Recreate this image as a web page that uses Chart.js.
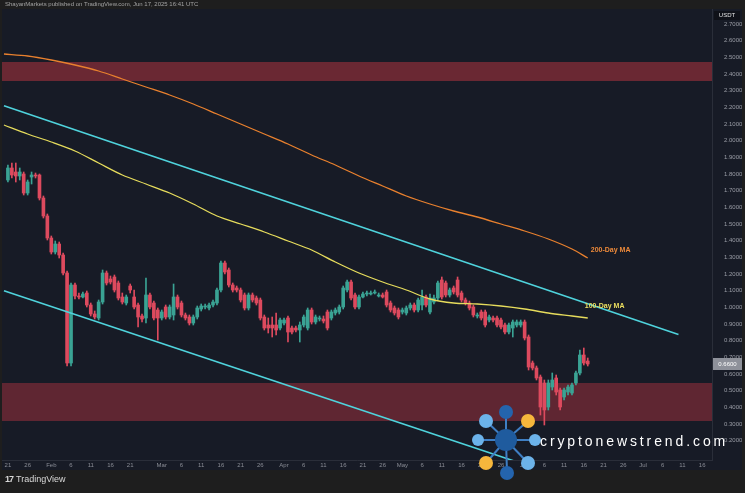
<!DOCTYPE html>
<html>
<head>
<meta charset="utf-8">
<script src="https://cdn.jsdelivr.net/npm/chart.js@4.4.1/dist/chart.umd.min.js"></script>
<style>
  html, body { margin: 0; padding: 0; background: #1e1e1e; }
  #wrap { position: relative; width: 745px; height: 493px; overflow: hidden; font-family: "Liberation Sans", Arial, sans-serif; }
  #chart { position: absolute; left: 0; top: 0; }
  .header { position: absolute; left: 5px; top: 1px; font-size: 6px; color: #a3a3a3; white-space: nowrap; }
  .footer { position: absolute; left: 5px; top: 474px; font-size: 9px; color: #d8d8d8; }
  .footer b { font-weight: 700; margin-right: 3px; letter-spacing: -1px; }
  .wm-text { position: absolute; left: 540px; top: 433px; font-size: 14px; color: #ffffff; letter-spacing: 2.9px; white-space: nowrap; }
  .wm-logo { position: absolute; left: 466px; top: 402px; }
</style>
</head>
<body>
<div id="wrap">
  <canvas id="chart" width="745" height="493"></canvas>
  <div class="header">ShayanMarkets published on TradingView.com, Jun 17, 2025 16:41 UTC</div>
  <div class="footer"><b>17</b>TradingView</div>
  <svg class="wm-logo" width="80" height="80" viewBox="0 0 80 80">
    <g stroke="#3f7fc4" stroke-width="2">
      <line x1="40" y1="38" x2="40" y2="10"/><line x1="40" y1="38" x2="20" y2="19"/>
      <line x1="40" y1="38" x2="62" y2="19"/><line x1="40" y1="38" x2="12" y2="38"/>
      <line x1="40" y1="38" x2="69" y2="38"/><line x1="40" y1="38" x2="20" y2="61"/>
      <line x1="40" y1="38" x2="41" y2="71"/><line x1="40" y1="38" x2="62" y2="61"/>
    </g>
    <circle cx="40" cy="10" r="7" fill="#2464ad"/>
    <circle cx="20" cy="19" r="7" fill="#6cb3ea"/>
    <circle cx="62" cy="19" r="7" fill="#f6b73c"/>
    <circle cx="12" cy="38" r="6" fill="#6cb3ea"/>
    <circle cx="69" cy="38" r="6" fill="#6cb3ea"/>
    <circle cx="20" cy="61" r="7" fill="#f6b73c"/>
    <circle cx="41" cy="71" r="7" fill="#2464ad"/>
    <circle cx="62" cy="61" r="7" fill="#6cb3ea"/>
    <circle cx="40" cy="38" r="11" fill="#1f5b9e"/>
  </svg>
  <div class="wm-text">cryptonewstrend.com</div>
</div>

<script>
// ======================================
// Data
// ======================================

const startDay = "2025-01-20";
const totalDays = 180;
const firstCandle = 1; // first candle sits on day index 1

const opens = [
  1.764, 1.836, 1.812, 1.788, 1.800, 1.686, 1.782, 1.794, 1.794, 1.656,
  1.548, 1.416, 1.332, 1.380, 1.314, 1.206, 0.666, 1.134, 1.068, 1.062,
  1.086, 1.014, 0.960, 0.936, 1.032, 1.206, 1.170, 1.182, 1.146, 1.062,
  1.026, 1.128, 1.062, 1.014, 0.948, 0.936, 1.074, 1.026, 0.984, 0.936,
  1.002, 0.942, 0.954, 1.062, 1.026, 0.954, 0.942, 0.906, 0.942, 0.990,
  1.002, 0.996, 1.014, 1.026, 1.104, 1.266, 1.224, 1.134, 1.116, 1.104,
  1.074, 0.996, 1.074, 1.056, 1.044, 0.942, 0.894, 0.894, 0.894, 0.876,
  0.906, 0.936, 0.876, 0.876, 0.864, 0.894, 0.876, 0.984, 0.912, 0.930,
  0.930, 0.972, 0.936, 0.966, 0.972, 1.002, 1.104, 1.152, 1.074, 1.002,
  1.062, 1.080, 1.080, 1.086, 1.068, 1.074, 1.092, 1.026, 0.996, 0.984,
  0.972, 0.966, 0.996, 1.014, 0.984, 1.014, 1.062, 0.972, 1.032, 1.056,
  1.164, 1.146, 1.074, 1.116, 1.164, 1.086, 1.044, 1.026, 1.002, 0.948,
  0.972, 0.972, 0.924, 0.936, 0.936, 0.924, 0.894, 0.852, 0.876, 0.894,
  0.894, 0.912, 0.822, 0.666, 0.636, 0.582, 0.546, 0.402, 0.522, 0.576,
  0.504, 0.462, 0.492, 0.486, 0.546, 0.606, 0.714, 0.678,
];
const highs = [
  1.854, 1.866, 1.866, 1.836, 1.812, 1.764, 1.812, 1.806, 1.800, 1.668,
  1.560, 1.428, 1.398, 1.392, 1.326, 1.218, 1.146, 1.146, 1.086, 1.092,
  1.098, 1.026, 0.978, 1.044, 1.224, 1.218, 1.188, 1.194, 1.158, 1.086,
  1.074, 1.140, 1.104, 1.026, 0.960, 1.176, 1.086, 1.038, 0.996, 0.984,
  1.014, 1.014, 1.140, 1.074, 1.038, 0.966, 0.954, 0.954, 1.008, 1.020,
  1.020, 1.026, 1.044, 1.116, 1.278, 1.278, 1.236, 1.146, 1.128, 1.116,
  1.086, 1.086, 1.086, 1.068, 1.056, 0.954, 0.936, 0.942, 0.966, 0.936,
  0.936, 0.948, 0.888, 0.888, 0.912, 0.954, 0.996, 0.996, 0.954, 0.948,
  0.948, 0.984, 0.984, 0.996, 1.014, 1.128, 1.164, 1.164, 1.086, 1.074,
  1.092, 1.098, 1.098, 1.104, 1.086, 1.086, 1.104, 1.038, 1.008, 0.996,
  0.996, 1.008, 1.026, 1.026, 1.056, 1.104, 1.074, 1.080, 1.074, 1.158,
  1.182, 1.158, 1.116, 1.128, 1.182, 1.098, 1.056, 1.038, 1.014, 0.966,
  0.984, 0.984, 0.954, 0.948, 0.948, 0.936, 0.906, 0.906, 0.924, 0.924,
  0.924, 0.924, 0.834, 0.678, 0.648, 0.594, 0.564, 0.564, 0.606, 0.594,
  0.516, 0.516, 0.534, 0.546, 0.618, 0.744, 0.756, 0.696,
];
const lows = [
  1.752, 1.776, 1.752, 1.764, 1.674, 1.674, 1.740, 1.776, 1.644, 1.536,
  1.404, 1.320, 1.320, 1.296, 1.194, 0.648, 0.648, 1.050, 1.050, 1.056,
  1.002, 0.948, 0.930, 0.924, 1.020, 1.134, 1.140, 1.092, 1.044, 1.020,
  1.014, 1.086, 0.990, 0.882, 0.912, 0.906, 0.990, 0.924, 0.804, 0.924,
  0.930, 0.930, 0.924, 0.990, 0.942, 0.924, 0.894, 0.894, 0.930, 0.978,
  0.990, 0.984, 1.002, 1.014, 1.092, 1.200, 1.122, 1.092, 1.092, 1.032,
  0.984, 0.984, 1.032, 1.014, 0.924, 0.864, 0.846, 0.822, 0.834, 0.864,
  0.894, 0.792, 0.840, 0.852, 0.792, 0.882, 0.864, 0.900, 0.900, 0.918,
  0.906, 0.864, 0.924, 0.954, 0.960, 0.990, 1.092, 1.044, 0.990, 0.990,
  1.056, 1.068, 1.074, 1.080, 1.062, 1.056, 1.002, 0.972, 0.954, 0.930,
  0.960, 0.954, 0.984, 0.972, 0.972, 0.984, 1.002, 0.960, 1.020, 1.044,
  1.050, 1.062, 1.062, 1.080, 1.062, 1.032, 1.014, 0.984, 0.942, 0.936,
  0.924, 0.882, 0.912, 0.912, 0.882, 0.870, 0.840, 0.840, 0.822, 0.882,
  0.882, 0.804, 0.624, 0.624, 0.564, 0.354, 0.294, 0.384, 0.504, 0.474,
  0.384, 0.444, 0.474, 0.474, 0.534, 0.594, 0.654, 0.648,
];
const closes = [
  1.836, 1.794, 1.788, 1.812, 1.686, 1.752, 1.794, 1.788, 1.656, 1.548,
  1.416, 1.332, 1.380, 1.314, 1.206, 0.666, 1.134, 1.068, 1.062, 1.080,
  1.014, 0.960, 0.942, 1.032, 1.206, 1.146, 1.152, 1.104, 1.056, 1.032,
  1.062, 1.104, 1.002, 0.942, 0.930, 1.074, 1.002, 0.936, 0.936, 0.972,
  0.942, 1.002, 1.062, 1.002, 0.954, 0.936, 0.906, 0.942, 0.996, 1.008,
  1.008, 1.014, 1.032, 1.104, 1.266, 1.212, 1.134, 1.104, 1.104, 1.044,
  0.996, 1.074, 1.044, 1.026, 0.936, 0.876, 0.876, 0.876, 0.864, 0.924,
  0.924, 0.852, 0.852, 0.864, 0.894, 0.942, 0.984, 0.912, 0.942, 0.936,
  0.918, 0.876, 0.972, 0.984, 1.002, 1.116, 1.152, 1.056, 1.002, 1.062,
  1.080, 1.086, 1.086, 1.092, 1.074, 1.062, 1.014, 0.984, 0.966, 0.942,
  0.984, 0.996, 1.014, 0.984, 1.044, 1.062, 1.014, 1.056, 1.056, 1.146,
  1.062, 1.074, 1.104, 1.092, 1.074, 1.044, 1.026, 0.996, 0.954, 0.954,
  0.936, 0.894, 0.942, 0.924, 0.894, 0.882, 0.852, 0.894, 0.912, 0.912,
  0.912, 0.816, 0.642, 0.636, 0.576, 0.402, 0.384, 0.546, 0.564, 0.492,
  0.402, 0.504, 0.522, 0.534, 0.606, 0.714, 0.666, 0.660,
];

// moving averages read at a few days (day index from startDay)
const maDays = [0, 6, 12, 18, 24, 30, 36, 42, 48, 54, 60, 66, 72, 78, 84, 90, 96, 102, 108, 114, 120, 126, 132, 138, 144, 148];
const ma200 = [2.520, 2.508, 2.484, 2.454, 2.418, 2.370, 2.322, 2.274, 2.220, 2.160, 2.100, 2.040, 1.980, 1.914, 1.854, 1.788, 1.728, 1.668, 1.620, 1.578, 1.542, 1.500, 1.458, 1.410, 1.350, 1.296];
const ma100 = [2.094, 2.040, 1.992, 1.938, 1.866, 1.794, 1.740, 1.686, 1.620, 1.548, 1.500, 1.452, 1.398, 1.344, 1.272, 1.206, 1.152, 1.104, 1.050, 1.026, 1.020, 1.008, 0.990, 0.966, 0.948, 0.936];

// channel lines: [day, price] end points
const upperChannel = [[0, 2.210], [171, 0.837]];
const lowerChannel = [[0, 1.100], [132, 0.057]];

// supply / demand zones: [top, bottom]
const resistanceZone = [2.472, 2.358];
const supportZone = [0.546, 0.318];

const priceTicks = [2.7, 2.6, 2.5, 2.4, 2.3, 2.2, 2.1, 2.0, 1.9, 1.8, 1.7, 1.6, 1.5, 1.4, 1.3, 1.2, 1.1, 1.0, 0.9, 0.8, 0.7, 0.6, 0.5, 0.4, 0.3, 0.2];
const monthNames = ["Jan", "Feb", "Mar", "Apr", "May", "Jun", "Jul", "Aug", "Sep", "Oct", "Nov", "Dec"];

// ======================================
// Build
// ======================================

const UP = "#3aa394";
const DOWN = "#dd4a5e";

const labels = [];
const t0 = new Date(startDay + "T00:00:00Z");
for (let i = 0; i < totalDays; i++) {
  const d = new Date(t0.getTime() + i * 86400000);
  labels.push(d.toISOString().slice(0, 10));
}

const bodies = labels.map((_, i) => {
  const k = i - firstCandle;
  return k >= 0 && k < opens.length ? [opens[k], closes[k]] : null;
});
const wicks = labels.map((_, i) => {
  const k = i - firstCandle;
  return k >= 0 && k < opens.length ? [lows[k], highs[k]] : null;
});

function candleColor(ctx) {
  const k = ctx.dataIndex - firstCandle;
  return closes[k] >= opens[k] ? UP : DOWN;
}

const toPoints = (days, values) => days.map((d, k) => ({ x: labels[d], y: values[k] }));
const linePoints = (pts) => pts.map(([d, v]) => ({ x: labels[d], y: v }));

const lineStyle = (color, width) => ({
  type: "line",
  borderColor: color,
  borderWidth: width,
  pointRadius: 0,
  tension: 0.3,
  fill: false,
  order: 0,
});

function xTickLabel(i) {
  const day = Number(labels[i].slice(8, 10));
  if (day === 1) return monthNames[Number(labels[i].slice(5, 7)) - 1];
  if (![6, 11, 16, 21, 26].includes(day)) return "";
  // hide a label that would crowd the next month name
  for (let j = 1; j <= 3; j++) {
    if (labels[i + j] && labels[i + j].slice(8, 10) === "01") return "";
  }
  return String(day);
}

// ======================================
// Plugins
// ======================================

const panelPlugin = {
  id: "panel",
  beforeDraw(chart) {
    const { ctx, chartArea, scales } = chart;
    ctx.save();
    ctx.fillStyle = "#1e1e1e";
    ctx.fillRect(0, 0, chart.width, chart.height);
    ctx.fillStyle = "#171b26";
    ctx.fillRect(2, 9, 740, 461);

    const zone = (range, color) => {
      const y1 = scales.y.getPixelForValue(range[0]);
      const y2 = scales.y.getPixelForValue(range[1]);
      ctx.fillStyle = color;
      ctx.fillRect(chartArea.left, y1, chartArea.right - chartArea.left, y2 - y1);
    };
    zone(resistanceZone, "#6a2833");
    zone(supportZone, "#5f2632");
    ctx.restore();
  },
  afterDraw(chart) {
    const { ctx, scales, chartArea } = chart;
    const x = scales.x;
    const y = scales.y;
    ctx.save();

    // date labels under the plot
    ctx.font = "6px 'Liberation Sans', Arial, sans-serif";
    ctx.fillStyle = "#8a8d96";
    ctx.textAlign = "center";
    ctx.textBaseline = "middle";
    labels.forEach((_, i) => {
      const t = xTickLabel(i);
      if (t) ctx.fillText(t, x.getPixelForValue(i), chartArea.bottom + 5);
    });

    // MA labels
    ctx.textAlign = "left";
    ctx.font = "bold 7px 'Liberation Sans', Arial, sans-serif";
    ctx.fillStyle = "#ee8a3a";
    ctx.fillText("200-Day MA", x.getPixelForValue(maDays[maDays.length - 1]) + 3, y.getPixelForValue(ma200[ma200.length - 1]) - 8);
    ctx.fillStyle = "#ecdf60";
    ctx.fillText("100-Day MA", x.getPixelForValue(maDays[maDays.length - 1]) - 3, y.getPixelForValue(ma100[ma100.length - 1]) - 12);

    // last price box
    const last = closes[closes.length - 1];
    const py = y.getPixelForValue(last);
    ctx.fillStyle = "#8e919a";
    ctx.fillRect(713, py - 6, 29, 12);
    ctx.fillStyle = "#ffffff";
    ctx.font = "6px 'Liberation Sans', Arial, sans-serif";
    ctx.textAlign = "center";
    ctx.fillText(last.toFixed(4), 727.5, py);

    // currency box
    ctx.fillStyle = "#0f1118";
    ctx.fillRect(714, 11, 26, 9);
    ctx.fillStyle = "#e0e0e0";
    ctx.fillText("USDT", 727, 15.5);
    ctx.restore();
  },
};

// ======================================
// Chart
// ======================================

new Chart(document.getElementById("chart"), {
  type: "bar",
  data: {
    labels,
    datasets: [
      { ...lineStyle("#4fd3dc", 1.6), data: linePoints(upperChannel), tension: 0 },
      { ...lineStyle("#4fd3dc", 1.6), data: linePoints(lowerChannel), tension: 0 },
      { ...lineStyle("#e8802e", 1.3), data: toPoints(maDays, ma200) },
      { ...lineStyle("#e6dc5c", 1.3), data: toPoints(maDays, ma100) },
      {
        data: bodies,
        backgroundColor: candleColor,
        barThickness: 3,
        minBarLength: 1,
        grouped: false,
        order: 1,
      },
      {
        data: wicks,
        backgroundColor: candleColor,
        barThickness: 1,
        grouped: false,
        order: 2,
      },
    ],
  },
  options: {
    responsive: false,
    animation: false,
    layout: { padding: { left: 2, top: 9, right: 3, bottom: 23 } },
    plugins: { legend: { display: false }, tooltip: { enabled: false } },
    scales: {
      x: {
        type: "category",
        offset: true,
        grid: { display: false, drawTicks: false },
        border: { display: true, color: "#2a2e39" },
        afterFit: (s) => { s.height = 10; },
        ticks: { display: false },
      },
      y: {
        position: "right",
        min: 0.084,
        max: 2.79,
        grid: { display: false },
        border: { display: true, color: "#2a2e39" },
        afterFit: (s) => { s.width = 30; },
        afterBuildTicks: (s) => { s.ticks = priceTicks.map((v) => ({ value: v })); },
        ticks: {
          padding: 4,
          color: "#9a9da6",
          font: { size: 6, family: "'Liberation Sans', Arial, sans-serif" },
          callback: (v) => Number(v).toFixed(4),
        },
      },
    },
  },
  plugins: [panelPlugin],
});
</script>
</body>
</html>
